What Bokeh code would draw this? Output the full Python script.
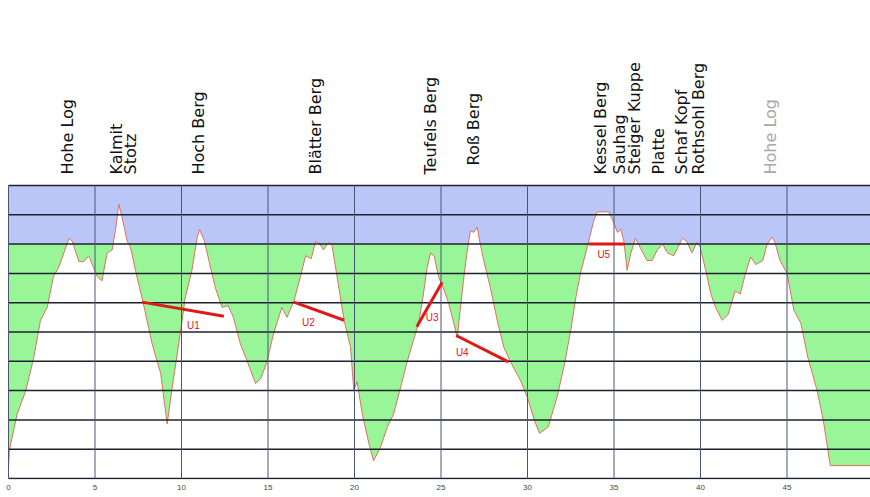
import math
from bokeh.plotting import figure
from bokeh.models import Range1d, FixedTicker, BoxAnnotation
from bokeh.embed import file_html
from bokeh.resources import INLINE
from bokeh.core.properties import value

# ---------------- data ----------------
km = [0.0, 0.05, 0.5, 1.0, 1.45, 1.85, 2.24, 2.6, 2.9, 3.2, 3.5, 3.68, 4.07, 4.35, 4.64, 4.84,
      5.13, 5.4, 5.7, 5.99, 6.18, 6.38, 6.57, 6.86, 7.05, 7.34, 7.8, 8.3, 8.8, 9.17, 9.46, 9.75,
      10.04, 10.2, 10.6, 10.9, 11.04, 11.33, 11.58, 11.96, 12.35, 12.7, 13.0, 13.4, 13.8, 14.28,
      14.6, 14.95, 15.3, 15.8, 16.1, 16.5, 16.88, 17.17, 17.5, 17.75, 18.0, 18.2, 18.5, 18.7,
      19.0, 19.4, 19.77, 19.96, 20.15, 20.45, 20.83, 21.1, 21.5, 21.9, 22.26, 22.66, 23.05, 23.4,
      23.7, 23.9, 24.2, 24.4, 24.6, 24.87, 25.2, 25.45, 25.74, 25.94, 26.1, 26.3, 26.5, 26.7,
      26.9, 27.1, 27.2, 27.47, 27.86, 28.25, 28.63, 29.0, 29.6, 30.0, 30.4, 30.7, 31.2, 31.7,
      32.1, 32.5, 32.8, 33.06, 33.45, 33.83, 34.03, 34.7, 35.0, 35.2, 35.4, 35.57, 35.76, 35.96,
      36.24, 36.5, 36.9, 37.2, 37.5, 37.8, 38.1, 38.45, 38.7, 38.94, 39.2, 39.5, 39.8, 39.98,
      40.3, 40.6, 40.87, 41.25, 41.6, 42.0, 42.3, 42.6, 42.9, 43.2, 43.6, 43.85, 44.14, 44.3,
      44.6, 45.0, 45.4, 45.8, 46.2, 46.74, 47.1, 47.5, 49.9]
elev = [218, 248, 310, 350, 405, 470, 492, 545, 560, 585, 610, 605, 570, 570, 580, 565,
        545, 537, 585, 590, 623, 668, 645, 605, 595, 555, 498, 430, 379, 293, 355, 412,
        470, 506, 555, 610, 625, 605, 572, 525, 492, 495, 475, 430, 400, 362,
        372, 400, 445, 492, 475, 503, 545, 580, 575, 605, 600, 590, 603, 598,
        543, 470, 424, 350, 365, 310, 260, 230, 253, 288, 310, 355, 400, 435,
        465, 498, 560, 585, 580, 543, 520, 498, 465, 440, 485, 538, 585, 623,
        620, 629, 610, 572, 525, 470, 424, 400, 367, 338, 299, 277, 288, 338,
        390, 453, 510, 550, 595, 640, 655, 655, 635, 620, 625, 605, 555, 583,
        610, 595, 572, 572, 590, 600, 585, 580, 595, 610, 605, 585, 603, 595,
        555, 515, 492, 470, 480, 520, 515, 550, 578, 565, 572, 600, 612, 603,
        572, 550, 487, 465, 407, 350, 299, 222, 222]

peak_names = ["Hohe Log", "Kalmit", "Stotz", "Hoch Berg", "Blätter Berg", "Teufels Berg",
              "Roß Berg", "Kessel Berg", "Sauhag", "Steiger Kuppe", "Platte", "Schaf Kopf",
              "Rothsohl Berg", "Hohe Log"]
peak_km = [3.41, 6.24, 7.05, 10.98, 17.75, 24.39, 26.88, 34.2, 35.32, 36.18, 37.57, 38.9,
           39.88, 44.05]

climb_names = ["U1", "U2", "U3", "U4", "U5"]
climb_km0 = [7.73, 16.5, 23.6, 25.88, 33.55]
climb_elev0 = [501, 501, 459, 444, 600]
climb_km1 = [12.45, 19.4, 25.07, 28.9, 35.57]
climb_elev1 = [477, 470, 535, 399, 600]
climb_label_km = [10.69, 17.34, 24.49, 26.23, 34.41]
climb_label_elev = [461, 467, 475, 415, 583]

km_ticks = [0, 5, 10, 15, 20, 25, 30, 35, 40, 45]
elev_lines = [200, 250, 300, 350, 400, 450, 500, 550, 600, 650, 700]
zone_limit = 600

# ---------------- geometry ----------------
W, H = 870, 497
PX_PER_KM = 17.3
PX_PER_M = 29.3 / 50.0
LEFT_PAD_PX = 8
FRAME_H = 479
BOTTOM_PX = 18

x0 = km_ticks[0] - LEFT_PAD_PX / PX_PER_KM
x1 = x0 + W / PX_PER_KM
ybot = elev_lines[0]
y0 = ybot - 1 / PX_PER_M
y1 = y0 + FRAME_H / PX_PER_M
ytop = elev_lines[-1]
xmax = x1

p = figure(width=W, height=H, output_backend="svg", toolbar_location=None,
           x_range=Range1d(x0, x1), y_range=Range1d(y0, y1),
           y_axis_location=None, min_border_left=0, min_border_right=0,
           min_border_top=0, min_border_bottom=BOTTOM_PX)
p.outline_line_color = None
p.background_fill_color = "white"
p.border_fill_color = "white"
p.xgrid.visible = False
p.ygrid.visible = False

p.add_layout(BoxAnnotation(left=km_ticks[0], bottom=ybot, top=zone_limit,
                           fill_color="#98f598", fill_alpha=1.0, line_color=None,
                           level="underlay"))
p.add_layout(BoxAnnotation(left=km_ticks[0], bottom=zone_limit, top=ytop,
                           fill_color="#bac6f8", fill_alpha=1.0, line_color=None,
                           level="underlay"))

p.varea(x=km, y1=ybot, y2=elev, fill_color="white")
p.line(km, elev, line_color="#e0705e", line_width=1)

# grid lines (drawn above the profile)
p.segment(x0=[km_ticks[0]] * len(elev_lines), y0=elev_lines,
          x1=[xmax] * len(elev_lines), y1=elev_lines,
          line_color="#1e2230", line_width=1.5)
p.segment(x0=km_ticks, y0=[ybot] * len(km_ticks), x1=km_ticks, y1=[ytop] * len(km_ticks),
          line_color="#4a5670", line_width=1)

ax = p.xaxis[0]
ax.ticker = FixedTicker(ticks=km_ticks)
ax.axis_line_color = None
ax.major_tick_out = 0
ax.major_tick_in = 0
ax.minor_tick_line_color = None
ax.major_label_text_font_size = "8px"
ax.major_label_text_color = "#444444"
ax.major_label_standoff = 5

# climbs
p.segment(x0=climb_km0, y0=climb_elev0, x1=climb_km1, y1=climb_elev1,
          line_color="#e01818", line_width=3)
p.text(x=climb_label_km, y=climb_label_elev, text=climb_names, text_color="#e02020",
       text_font=value("Liberation Sans"), text_font_size="10px",
       text_align="center", text_baseline="middle")

# peak labels above the profile
label_y = [ytop + (20 if n == "Roß Berg" else 11) / PX_PER_M for n in peak_names]
label_color = ["#111111"] * (len(peak_names) - 1) + ["#a8a8a8"]
p.text(x=peak_km, y=label_y, text=peak_names, angle=math.pi / 2,
       text_align="left", text_baseline="middle", text_font=value("DejaVu Sans"),
       text_font_size="16px", text_color=label_color)

open("out.html", "w").write(file_html(p, INLINE))
